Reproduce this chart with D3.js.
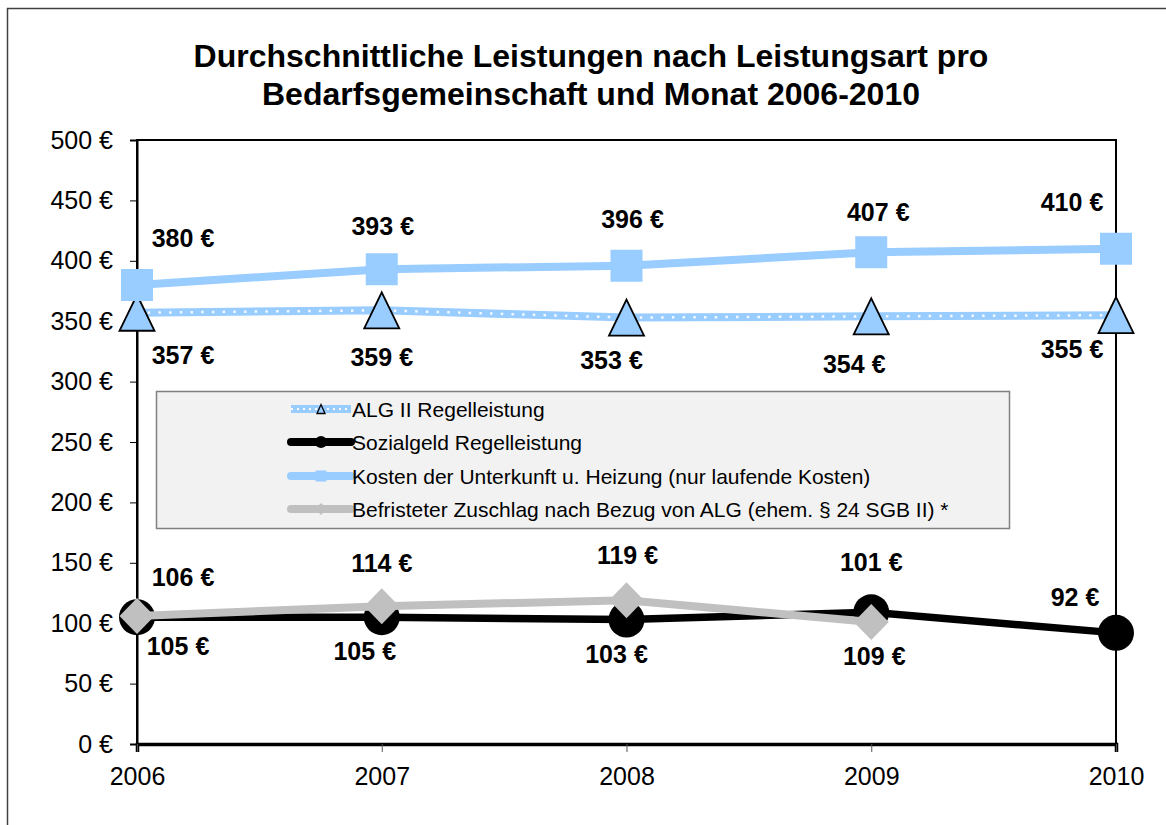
<!DOCTYPE html>
<html><head><meta charset="utf-8">
<script src="https://cdn.jsdelivr.net/npm/d3@7"></script>
<style>
html,body{margin:0;padding:0;background:#fff;}
svg{display:block;font-family:"Liberation Sans",Arial,sans-serif;}
</style></head>
<body>
<svg id="c" width="1166" height="825"></svg>
<script>
// ---- data ----
const years = ["2006","2007","2008","2009","2010"];
const algII = [357, 359, 353, 354, 355];
const sozialgeld = [105, 105, 103, 109, 92];
const kdu = [380, 393, 396, 407, 410];
const zuschlag = [106, 114, 119, 101, null];
const yTicks = [0, 50, 100, 150, 200, 250, 300, 350, 400, 450, 500];
const titleLines = ["Durchschnittliche Leistungen nach Leistungsart pro", "Bedarfsgemeinschaft und Monat 2006-2010"];
const legendNames = ["ALG II Regelleistung", "Sozialgeld Regelleistung",
  "Kosten der Unterkunft u. Heizung (nur laufende Kosten)",
  "Befristeter Zuschlag nach Bezug von ALG (ehem. § 24 SGB II) *"];

// ---- label placement (offsets from point, layout only) ----
const offAlg = [[46,42],[0,47],[-15,42],[-17,48],[-44,34]];
const offSoz = [[41,29],[-17,34],[-10,34],[3,44],[-41,-36]];
const offKdu = [[46,-47],[1,-43],[6,-47],[7,-40],[-44,-47]];
const offZus = [[46,-39],[0,-43],[1,-45],[0,-60],[0,0]];

const svg = d3.select("#c");
const blue = "#99ccff", gray = "#c0c0c0";

// outer chart border
svg.append("rect").attr("x",7.5).attr("y",8.5).attr("width",1200).attr("height",900)
  .attr("fill","none").attr("stroke","#404040").attr("stroke-width",1.5);

// title
svg.append("g").selectAll("text").data(titleLines).join("text")
  .attr("x",591).attr("y",(d,i)=>67+i*38)
  .attr("text-anchor","middle").attr("font-size",32).attr("font-weight","bold")
  .attr("fill","#000").text(d=>d);

const x = d3.scalePoint().domain(years).range([137,1116]);
const y = d3.scaleLinear().domain([0,500]).range([744,140]);

// plot area border
svg.append("rect").attr("x",137).attr("y",140).attr("width",1116-137).attr("height",744-140)
  .attr("fill","none").attr("stroke","#000").attr("stroke-width",2);

// y axis
const ya = svg.append("g").attr("transform","translate(137,0)")
  .call(d3.axisLeft(y).tickValues(yTicks).tickFormat(d=>d+" €").tickSize(7).tickPadding(17));
ya.select(".domain").attr("stroke","#000").attr("stroke-width",2);
ya.selectAll("text").attr("font-size",25).attr("font-family","'Liberation Sans',Arial,sans-serif").attr("fill","#000");
ya.selectAll(".tick line").attr("stroke","#000");

// x axis
const xa = svg.append("g").attr("transform","translate(0,744)")
  .call(d3.axisBottom(x).tickSize(8).tickPadding(15));
xa.select(".domain").attr("stroke","#000").attr("stroke-width",3.5);
xa.selectAll("text").attr("font-size",25).attr("font-family","'Liberation Sans',Arial,sans-serif").attr("fill","#000");
xa.selectAll(".tick line").attr("stroke","#555");

// legend box
const lg = svg.append("g");
lg.append("rect").attr("x",156.5).attr("y",391.5).attr("width",1009-156).attr("height",528-391)
  .attr("fill","#f2f2f2").attr("stroke","#808080").attr("stroke-width",1.5);

// symbol helpers
function tri(w,h){return `M0,${-h/2}L${w/2},${h/2}L${-w/2},${h/2}Z`;}
function sq(s){return `M${-s/2},${-s/2}h${s}v${s}h${-s}Z`;}
function dia(w,h){return `M0,${-h/2}L${w/2},0L0,${h/2}L${-w/2},0Z`;}

function mk(vals){return years.map((yr,i)=>({yr, v:vals[i], i})).filter(d=>d.v!=null);}
const line = d3.line().x(d=>x(d.yr)).y(d=>y(d.v));

const plot = svg.append("g");
// ALG II
const dAlg = mk(algII);
plot.append("path").attr("d",line(dAlg)).attr("fill","none").attr("stroke",blue).attr("stroke-width",8);
plot.append("path").attr("d",line(dAlg)).attr("fill","none").attr("stroke","#fff").attr("stroke-width",2.5)
  .attr("stroke-dasharray","2.5 8.2").attr("stroke-opacity",0.9);
plot.selectAll(".tri").data(dAlg).join("path")
  .attr("transform",d=>`translate(${x(d.yr)},${y(d.v)})`).attr("d",tri(35,36))
  .attr("fill",blue).attr("stroke","#000").attr("stroke-width",1.8).attr("stroke-linejoin","miter");
// Sozialgeld
const dSoz = mk(sozialgeld);
plot.append("path").attr("d",line(dSoz)).attr("fill","none").attr("stroke","#000").attr("stroke-width",7.5);
plot.selectAll(".circ").data(dSoz).join("circle")
  .attr("cx",d=>x(d.yr)).attr("cy",d=>y(d.v)).attr("r",18).attr("fill","#000");
// KdU
const dKdu = mk(kdu);
plot.append("path").attr("d",line(dKdu)).attr("fill","none").attr("stroke",blue).attr("stroke-width",8);
plot.selectAll(".sq").data(dKdu).join("path")
  .attr("transform",d=>`translate(${x(d.yr)},${y(d.v)})`).attr("d",sq(32)).attr("fill",blue);
// Zuschlag
const dZus = mk(zuschlag);
plot.append("path").attr("d",line(dZus)).attr("fill","none").attr("stroke",gray).attr("stroke-width",8);
plot.selectAll(".dia").data(dZus).join("path")
  .attr("transform",d=>`translate(${x(d.yr)},${y(d.v)})`).attr("d",dia(35,36)).attr("fill",gray);

// data labels
function labels(data, off){
  svg.append("g").selectAll("text").data(data).join("text")
    .attr("x",d=>x(d.yr)+off[d.i][0]).attr("y",d=>y(d.v)+off[d.i][1])
    .attr("text-anchor","middle").attr("dominant-baseline","central")
    .attr("font-size",25).attr("font-weight","bold").attr("fill","#000")
    .text(d=>d.v+" €");
}
labels(dAlg, offAlg);
labels(dSoz, offSoz);
labels(dKdu, offKdu);
labels(dZus, offZus);

// legend entries
const legY = [409, 442, 476, 509];
const lx0 = 291, lx1 = 351, lmx = 321;
legendNames.forEach((name,i)=>{
  const g = lg.append("g");
  const yy = legY[i];
  if(i===0){
    g.append("line").attr("x1",lx0).attr("x2",lx1).attr("y1",yy).attr("y2",yy).attr("stroke",blue).attr("stroke-width",8);
    g.append("line").attr("x1",lx0).attr("x2",lx1).attr("y1",yy).attr("y2",yy).attr("stroke","#fff").attr("stroke-width",2).attr("stroke-dasharray","2 4");
    g.append("path").attr("transform",`translate(${lmx},${yy})`).attr("d",tri(8,9)).attr("fill",blue).attr("stroke","#000").attr("stroke-width",1.3);
  } else if(i===1){
    g.append("line").attr("x1",lx0).attr("x2",lx1).attr("y1",yy).attr("y2",yy).attr("stroke","#000").attr("stroke-width",8).attr("stroke-linecap","round");
    g.append("circle").attr("cx",lmx).attr("cy",yy).attr("r",6).attr("fill","#000");
  } else if(i===2){
    g.append("line").attr("x1",lx0).attr("x2",lx1).attr("y1",yy).attr("y2",yy).attr("stroke",blue).attr("stroke-width",8).attr("stroke-linecap","round");
    g.append("path").attr("transform",`translate(${lmx},${yy})`).attr("d",sq(11)).attr("fill",blue);
  } else {
    g.append("line").attr("x1",lx0).attr("x2",lx1).attr("y1",yy).attr("y2",yy).attr("stroke",gray).attr("stroke-width",8).attr("stroke-linecap","round");
    g.append("path").attr("transform",`translate(${lmx},${yy})`).attr("d",dia(12,12)).attr("fill",gray);
  }
  g.append("text").attr("x",352).attr("y",yy).attr("dominant-baseline","central")
    .attr("font-size",21).attr("fill","#000").text(name);
});
</script>
</body></html>
